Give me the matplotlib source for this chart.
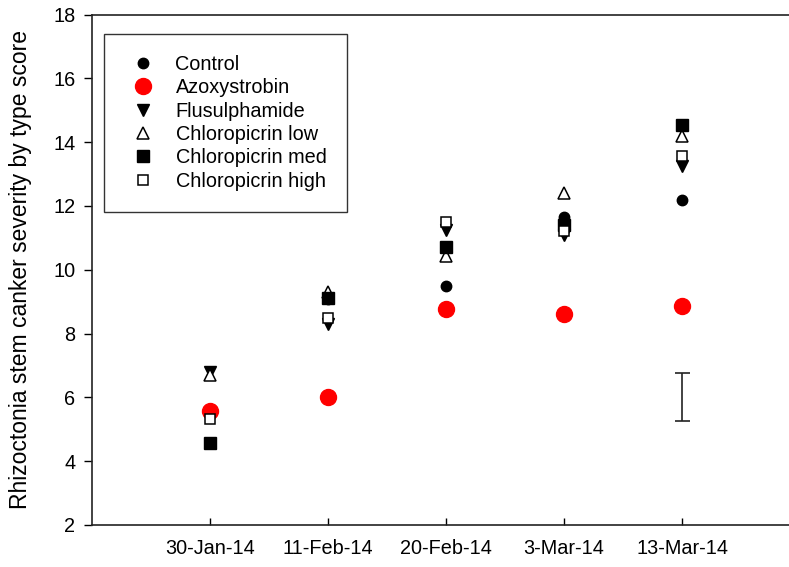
import matplotlib.pyplot as plt
import numpy as np

plt.rcParams['font.family'] = ['Liberation Sans', 'DejaVu Sans']

dates = ["30-Jan-14", "11-Feb-14", "20-Feb-14", "3-Mar-14", "13-Mar-14"]

control = [5.5, 9.08, 9.48, 11.64, 12.2]
azoxystrobin = [5.57, 6.02, 8.76, 8.6, 8.86]
flusulphamide = [6.78, 8.3, 11.24, 11.1, 13.25]
chloro_low = [6.7, 9.3, 10.42, 12.39, 14.2]
chloro_med = [4.58, 9.1, 10.7, 11.4, 14.55]
chloro_high = [5.33, 8.5, 11.49, 11.22, 13.57]

# LSD bar shown at the last date
lsd_x = 5
lsd_mid = 6.0
lsd_half = 0.75

x = np.arange(1, len(dates) + 1)

fig = plt.figure(figsize=(7.89, 5.67), dpi=100)
ax = fig.add_axes([92 / 789, 42 / 567, (800 - 92) / 789, (525 - 14.5) / 567])

ax.plot(x, control, 'o', color='black', markersize=7.5, label='Control', linestyle='none')
ax.plot(x, azoxystrobin, 'o', color='red', markersize=11.5, label='Azoxystrobin', linestyle='none')
ax.plot(x, flusulphamide, 'v', color='black', markersize=8.5, label='Flusulphamide', linestyle='none')
ax.plot(x, chloro_low, '^', markerfacecolor='white', markeredgecolor='black', markeredgewidth=1.1,
        markersize=8.5, label='Chloropicrin low', linestyle='none')
ax.plot(x, chloro_med, 's', color='black', markersize=8, label='Chloropicrin med', linestyle='none')
ax.plot(x, chloro_high, 's', markerfacecolor='white', markeredgecolor='black', markeredgewidth=1.1,
        markersize=7.5, label='Chloropicrin high', linestyle='none')

ax.errorbar([lsd_x], [lsd_mid], yerr=[lsd_half], fmt='none', ecolor='#222222',
            elinewidth=1.2, capsize=5.4, capthick=1.2)

ax.set_xlim(0, 6)
ax.set_ylim(2, 18)
ax.set_yticks(range(2, 19, 2))
ax.set_xticks(x)
ax.set_xticklabels(dates)
ax.tick_params(axis='y', direction='out', length=6, width=1, labelsize=14.3, pad=6)
ax.tick_params(axis='x', direction='in', length=5, width=1, labelsize=14.3, pad=10)

for s in ['left', 'bottom', 'top']:
    ax.spines[s].set_linewidth(1.2)
    ax.spines[s].set_color('#222222')
ax.spines['right'].set_visible(False)

ax.set_ylabel("Rhizoctonia stem canker severity by type score", fontsize=16.5, labelpad=15)

leg = ax.legend(loc='upper left', bbox_to_anchor=(12 / 708, (525 - 34) / 510.5),
                fontsize=14.3, frameon=True, fancybox=False, edgecolor='black',
                handletextpad=0.75, borderpad=1.05, labelspacing=0.22, handlelength=1.8,
                borderaxespad=0)
leg.get_frame().set_linewidth(1.0)

fig.savefig("out.png", dpi=100)
